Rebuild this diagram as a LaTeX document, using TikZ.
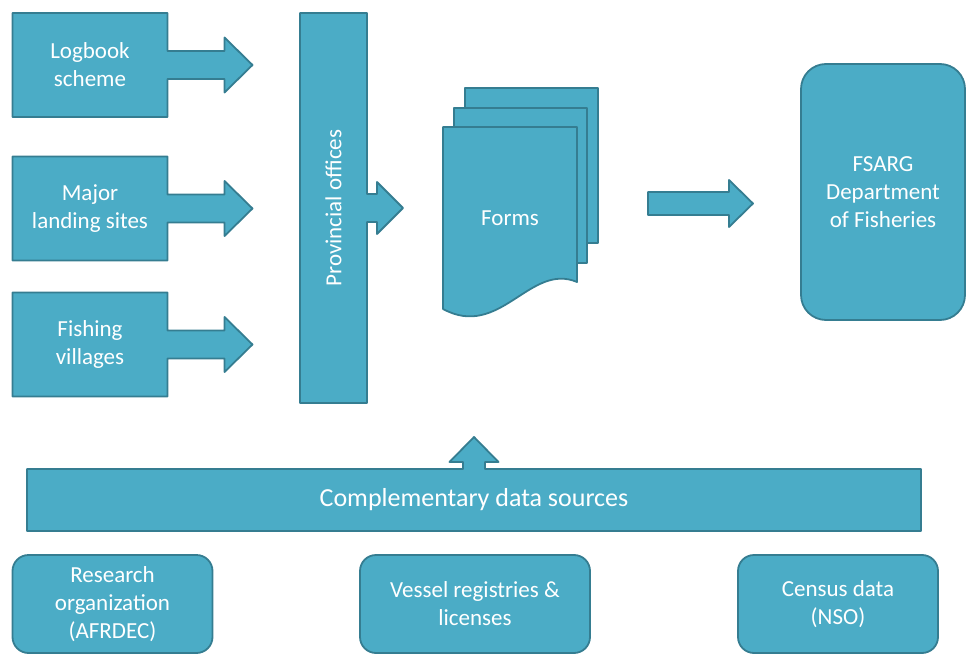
\documentclass[tikz,border=0pt]{standalone}
\usepackage{fontspec}
\setmainfont{Carlito}
\usetikzlibrary{backgrounds}
\definecolor{aqua}{HTML}{4BACC6}
\definecolor{aquadark}{HTML}{357D91}
\tikzset{
  blok/.style={fill=aqua,draw=aquadark,line width=1.8pt,line join=round},
  txt/.style={text=white,align=center,font=\fontsize{23}{28}\selectfont,inner sep=0pt,outer sep=0pt},
  bron/.style={blok,txt,rounded corners=16pt,minimum width=200,minimum height=98}
}
\begin{document}
\begin{tikzpicture}[x=1pt,y=-1pt]
\useasboundingbox (0,0) rectangle (969,655);
% bronnen links
\node[txt,minimum width=155,minimum height=104] (logbook) at (90,65) {Logbook\\scheme};
\node[txt,minimum width=155,minimum height=104] (landing) at (90,208.5) {Major\\landing sites};
\node[txt,minimum width=155,minimum height=104] (villages) at (90,344.5) {Fishing\\villages};
\node[txt,minimum width=67,minimum height=390] (prov) at (333.5,208) {};
\node[txt,rotate=90] at (prov) {Provincial offices};
\node[txt,font=\fontsize{26}{30}\selectfont,minimum width=894,minimum height=62] (comp) at (474,500) {Complementary data sources};
\begin{scope}[on background layer]
\foreach \n in {logbook,landing,villages}
  \draw[blok] (\n.north west) -- (\n.north east) -- ([yshift=14pt]\n.east) -- ++(57,0) -- ++(0,-13.5) -- ++(28,27.5) -- ++(-28,27.5) -- ++(0,-13.5) -- ++(-57,0) -- (\n.south east) -- (\n.south west) -- cycle;
\draw[blok] (prov.north west) -- (prov.north east) -- ([yshift=14pt]prov.east) -- ++(10,0) -- ++(0,-12) -- ++(26,26) -- ++(-26,26) -- ++(0,-12) -- ++(-10,0) -- (prov.south east) -- (prov.south west) -- cycle;
\draw[blok] (comp.south west) -- (comp.north west) -- ([xshift=-11pt]comp.north) -- ++(0,-7) -- ++(-13.5,0) -- ++(24.5,-25) -- ++(24.5,25) -- ++(-13.5,0) -- ++(0,7) -- (comp.north east) -- (comp.south east) -- cycle;
\end{scope}
% formulieren
\draw[blok] (465,88) rectangle (598,243);
\draw[blok] (454,108) rectangle (587,263);
\draw[blok] (443,127) -- (577,127) -- (577,282) .. controls (530,262) and (500,340) .. (443,309) -- cycle;
\node[txt] (forms) at (510,218) {Forms};
\draw[blok] (648,192) -- (729,192) -- (729,180) -- (753,203.5) -- (729,227) -- (729,215) -- (648,215) -- cycle;
\node[blok,txt,rounded corners=25pt,minimum width=164,minimum height=256] (fsarg) at (883,192) {FSARG\\Department\\of Fisheries};
% aanvullende bronnen
\node[bron] (afrdec) at (112.5,604) {Research\\organization\\(AFRDEC)};
\node[bron,minimum width=230] (vessel) at (475,604) {Vessel registries \&\\licenses};
\node[bron] (nso) at (838,604) {Census data\\(NSO)};
\end{tikzpicture}
\end{document}
